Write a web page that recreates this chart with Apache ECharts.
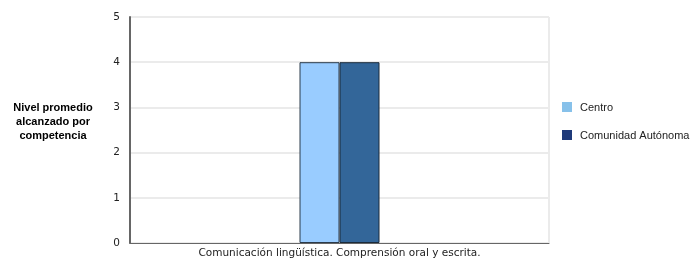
<!DOCTYPE html>
<html>
<head>
<meta charset="utf-8">
<script src="https://cdn.jsdelivr.net/npm/echarts@6/dist/echarts.min.js"></script>
<style>
  html, body { margin: 0; padding: 0; background: #fff; }
  #chart { width: 692px; height: 264px; }
</style>
</head>
<body>
<div id="chart"></div>
<script>
// datos
const categories = ['Comunicación lingüística. Comprensión oral y escrita.']
const seriesNames = ['Centro', 'Comunidad Autónoma']
const centroValues = [4]
const comunidadValues = [4]
const yTicks = [0, 1, 2, 3, 4, 5]

const barColors = ['#99ccff', '#336699']
const legendColors = ['#87c1ea', '#1f3a7a']
const gridColor = '#ebebeb'

const chart = echarts.init(document.getElementById('chart'))

chart.setOption({
    animation: false,
    grid: { left: 130, right: 143, top: 17, bottom: 21 },
    graphic: [{
        type: 'text',
        x: 53,
        y: 101,
        style: {
            text: 'Nivel promedio\nalcanzado por\ncompetencia',
            align: 'center',
            verticalAlign: 'top',
            font: 'bold 11px "Liberation Sans", Arial, sans-serif',
            lineHeight: 14,
            fill: '#000'
        }
    }, {
        // leyenda dibujada a mano para separar los colores del icono
        type: 'group',
        x: 562,
        y: 102,
        children: seriesNames.map((name, i) => ({
            type: 'group',
            y: i * 28,
            children: [
                { type: 'rect', shape: { x: 0, y: 0, width: 10, height: 10 }, style: { fill: legendColors[i] } },
                { type: 'text', x: 18, y: 0, style: { text: name, font: '11px "Liberation Sans", Arial, sans-serif', fill: '#222', verticalAlign: 'top' } }
            ]
        }))
    }, {
        type: 'line',
        shape: { x1: 130, y1: 17, x2: 549, y2: 17 },
        style: { stroke: gridColor, lineWidth: 2 }
    }, {
        type: 'line',
        shape: { x1: 549, y1: 17, x2: 549, y2: 243 },
        style: { stroke: gridColor, lineWidth: 2 }
    }],
    xAxis: {
        type: 'category',
        data: categories,
        axisLine: { lineStyle: { color: '#666', width: 1 } },
        axisTick: { show: false },
        axisLabel: {
            color: '#222',
            fontSize: 10.5,
            fontFamily: '"DejaVu Sans", sans-serif',
            margin: 5
        }
    },
    yAxis: {
        type: 'value',
        min: yTicks[0],
        max: yTicks[yTicks.length - 1],
        interval: 1,
        axisLine: { show: true, lineStyle: { color: '#666', width: 2 } },
        axisTick: { show: false },
        axisLabel: {
            color: '#222',
            fontSize: 10.5,
            fontFamily: '"DejaVu Sans", sans-serif',
            margin: 10
        },
        splitLine: { lineStyle: { color: gridColor, width: 2 } }
    },
    series: [{
        name: seriesNames[0],
        type: 'bar',
        data: centroValues,
        barWidth: 40,
        barGap: 0,
        itemStyle: { color: barColors[0], borderColor: '#2b3a4a', borderWidth: 1 }
    }, {
        name: seriesNames[1],
        type: 'bar',
        data: comunidadValues,
        barWidth: 40,
        itemStyle: { color: barColors[1], borderColor: '#1b2b3b', borderWidth: 1 }
    }]
})
</script>
</body>
</html>
